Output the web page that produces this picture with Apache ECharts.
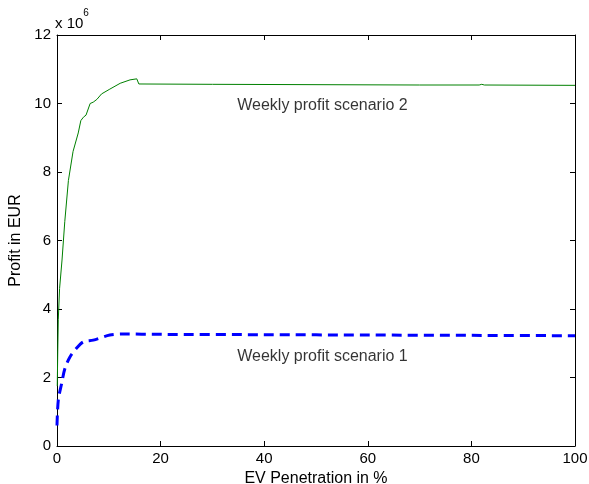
<!DOCTYPE html>
<html>
<head>
<meta charset="utf-8">
<script src="https://cdn.jsdelivr.net/npm/echarts@6/dist/echarts.min.js"></script>
<style>html,body{margin:0;padding:0;background:#fff;}#c{width:589px;height:484px;}</style>
</head>
<body>
<div id="c"></div>
<script>
// EV penetration (%) and weekly profit (x 10^6 EUR)
var scenario2X = [0.05, 0.15, 0.25, 0.5, 0.97, 1.5, 2.2, 3.1, 4.1, 4.6, 5.1, 5.6, 6.4, 7.0, 7.7, 8.6, 10.2, 12.2, 14.1, 15.4, 15.6, 15.8, 30, 50, 70, 81.5, 82, 82.5, 100];
var scenario2Y = [1.75, 2.8, 3.7, 4.6, 5.43, 6.55, 7.75, 8.6, 9.14, 9.5, 9.6, 9.66, 10.0, 10.04, 10.12, 10.28, 10.42, 10.59, 10.69, 10.72, 10.73, 10.57, 10.56, 10.55, 10.54, 10.54, 10.56, 10.54, 10.53];
var scenario1X = [0, 0.25, 0.9, 1.54, 2.5, 3.8, 5.1, 7.0, 10.2, 12.7, 20, 40, 60, 80, 100];
var scenario1Y = [0.6, 1.34, 1.83, 2.27, 2.6, 2.86, 3.04, 3.09, 3.24, 3.27, 3.26, 3.25, 3.24, 3.23, 3.22];
var xTicks = [0, 20, 40, 60, 80, 100];
var yTicks = [0, 2, 4, 6, 8, 10, 12];
var label2 = 'Weekly profit scenario 2';
var label1 = 'Weekly profit scenario 1';

function zip(a, b) { return a.map(function (v, i) { return [v, b[i]]; }); }

var chart = echarts.init(document.getElementById('c'), null, {renderer: 'canvas'});
var font = 'Liberation Sans, Arial, sans-serif';
var lineStyle = {color: '#000', width: 1};
chart.setOption({
  animation: false,
  backgroundColor: '#fff',
  grid: {left: 57, right: 14, top: 35, bottom: 38, show: false, containLabel: false, outerBoundsMode: 'none'},
  xAxis: [{
    type: 'value', min: xTicks[0], max: xTicks[xTicks.length - 1], interval: 20,
    position: 'bottom',
    name: 'EV Penetration in %', nameLocation: 'middle', nameGap: 22,
    nameTextStyle: {fontFamily: font, fontSize: 16, color: '#000'},
    axisLine: {show: true, onZero: false, lineStyle: lineStyle},
    axisTick: {show: true, inside: true, length: 5, lineStyle: lineStyle},
    axisLabel: {fontFamily: font, fontSize: 15, color: '#000', margin: 5},
    splitLine: {show: false}
  }, {
    type: 'value', min: xTicks[0], max: xTicks[xTicks.length - 1], interval: 20,
    position: 'top',
    axisLine: {show: true, onZero: false, lineStyle: lineStyle},
    axisTick: {show: true, inside: true, length: 5, lineStyle: lineStyle},
    axisLabel: {show: false}, splitLine: {show: false}
  }],
  yAxis: [{
    type: 'value', min: yTicks[0], max: yTicks[yTicks.length - 1], interval: 2,
    position: 'left',
    name: 'Profit in EUR', nameLocation: 'middle', nameGap: 31,
    nameTextStyle: {fontFamily: font, fontSize: 16, color: '#000'},
    axisLine: {show: true, onZero: false, lineStyle: lineStyle},
    axisTick: {show: true, inside: true, length: 5, lineStyle: lineStyle},
    axisLabel: {fontFamily: font, fontSize: 15, color: '#000', margin: 6},
    splitLine: {show: false}
  }, {
    type: 'value', min: yTicks[0], max: yTicks[yTicks.length - 1], interval: 2,
    position: 'right',
    axisLine: {show: true, onZero: false, lineStyle: lineStyle},
    axisTick: {show: true, inside: true, length: 5, lineStyle: lineStyle},
    axisLabel: {show: false}, splitLine: {show: false}
  }],
  series: [{
    type: 'line', name: label2, data: zip(scenario2X, scenario2Y),
    showSymbol: false, smooth: false,
    lineStyle: {color: '#008000', width: 1}
  }, {
    type: 'line', name: label1, data: zip(scenario1X, scenario1Y),
    showSymbol: false, smooth: 0.3,
    lineStyle: {color: '#0000ff', width: 3, type: [10, 6]}
  }, {
    type: 'scatter', symbolSize: 0, silent: true,
    data: [[34.8, 9.95]],
    label: {show: true, position: 'right', distance: 0, formatter: label2, fontFamily: font, fontSize: 16, color: '#000'}
  }, {
    type: 'scatter', symbolSize: 0, silent: true,
    data: [[34.8, 2.6]],
    label: {show: true, position: 'right', distance: 0, formatter: label1, fontFamily: font, fontSize: 16, color: '#000'}
  }],
  graphic: [{
    type: 'text', left: 55, top: 8,
    style: {
      text: '{a|x 10}{b|6}', fontFamily: font,
      rich: {
        a: {fontSize: 15, fontFamily: font, fill: '#000', verticalAlign: 'bottom', padding: [8, 0, 0, 0]},
        b: {fontSize: 10, fontFamily: font, fill: '#000', verticalAlign: 'top'}
      }
    }
  }]
});
</script>
</body>
</html>
